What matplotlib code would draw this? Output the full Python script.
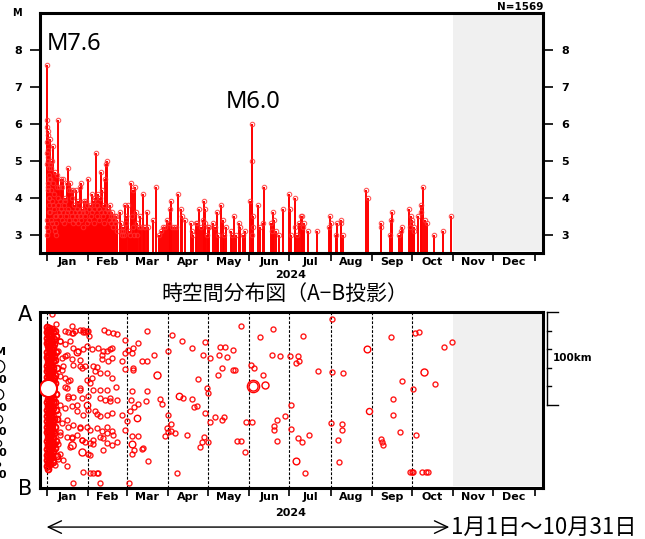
import matplotlib.pyplot as plt
import matplotlib.transforms as mtransforms
from matplotlib.lines import Line2D

plt.rcParams['font.family'] = ['DejaVu Sans']
JP = ['Noto Sans CJK JP', 'DejaVu Sans']

# ---- data -------------------------------------------------------------
month_names = ['Jan', 'Feb', 'Mar', 'Apr', 'May', 'Jun',
               'Jul', 'Aug', 'Sep', 'Oct', 'Nov', 'Dec']
month_start = [0, 31, 60, 91, 121, 152, 182, 213, 244, 274, 305, 335, 366]
year_label = '2024'
total_count = 'N=1569'
title_text = '時空間分布図（A−B投影）'
period_text = '1月1日～10月31日'
no_data_from = 305   # 11/1 onward not yet observed

# (day of year, magnitude) for M>=3 events
quakes_jan = [
    (0.1, 4.9), (0.15, 3.4), (0.2, 5.2), (0.3, 5.5), (0.35, 3.2), (0.4, 6.1),
    (0.5, 7.6), (0.55, 3.0), (0.6, 5.9), (0.7, 5.8), (0.75, 3.1), (0.8, 5.7),
    (0.9, 5.3), (0.95, 4.4), (1.0, 5.1), (1.1, 4.3), (1.2, 5.0), (1.3, 4.2),
    (1.4, 4.8), (1.5, 4.0), (1.6, 4.6), (1.7, 3.8), (1.8, 4.5), (1.9, 3.6),
    (2.0, 4.0), (2.2, 4.5), (2.5, 5.6), (2.6, 3.6), (2.8, 4.9), (3.0, 4.2),
    (3.2, 4.8), (3.5, 5.0), (3.6, 3.4), (3.8, 3.9), (4.0, 3.3), (4.2, 5.0),
    (4.5, 4.4), (4.8, 3.8), (5.0, 5.4), (5.2, 3.2), (5.5, 4.1), (5.8, 3.7),
    (6.0, 3.5), (6.2, 3.1), (6.5, 4.7), (6.8, 3.0), (7.0, 3.5), (7.3, 3.3),
    (7.6, 4.6), (7.9, 4.3), (8.2, 4.0), (8.5, 3.8), (8.7, 6.1), (9.0, 3.6),
    (9.5, 4.3), (9.8, 3.9), (10.2, 3.5), (10.6, 3.7), (11.0, 4.5), (11.3, 3.4),
    (11.7, 4.3), (12.0, 4.5), (12.4, 3.6), (12.8, 3.8), (13.2, 3.3), (13.6, 3.9),
    (14.0, 4.0), (14.4, 3.5), (15.0, 4.4), (15.3, 3.6), (15.7, 4.8), (16.1, 3.7),
    (16.5, 3.4), (17.0, 4.2), (17.5, 4.4), (17.9, 3.6), (18.3, 4.2), (18.7, 3.5),
    (19.2, 4.0), (19.6, 4.2), (20.0, 3.3), (20.5, 3.8), (21.0, 3.6), (21.4, 3.4),
    (22.0, 4.2), (22.5, 3.7), (23.0, 3.5), (23.4, 3.9), (23.8, 3.3), (24.3, 3.6),
    (25.0, 4.3), (25.3, 3.5), (25.7, 4.4), (26.1, 3.4), (26.6, 3.7), (27.0, 3.2),
    (27.5, 3.6), (28.0, 3.9), (28.5, 3.5), (29.3, 3.9), (29.8, 3.6), (30.2, 3.3),
    (30.6, 3.8),
]
quakes_feb = [
    (31.0, 4.5), (31.5, 3.7), (32.0, 3.4), (32.5, 3.8), (33.0, 3.5), (33.7, 4.1),
    (34.2, 3.6), (34.8, 3.9), (35.3, 3.3), (35.8, 3.7), (36.3, 4.0), (37.0, 5.2),
    (37.5, 3.5), (38.0, 3.8), (38.7, 4.1), (39.2, 3.4), (39.6, 3.7), (40.0, 4.0),
    (40.5, 3.6), (41.0, 4.7), (41.7, 4.2), (42.2, 3.5), (42.7, 3.8), (43.2, 3.3),
    (43.6, 3.6), (44.0, 4.5), (44.5, 4.9), (45.0, 3.7), (45.5, 5.0), (46.0, 3.7),
    (46.5, 3.4), (47.0, 3.6), (47.5, 3.8), (48.0, 3.5), (48.5, 3.3), (49.0, 3.6),
    (49.5, 3.5), (50.0, 3.2), (50.5, 3.4), (51.0, 3.5), (51.5, 3.3), (52.0, 3.5),
    (52.5, 3.4), (53.0, 3.1), (55.0, 3.6), (55.5, 3.1), (56.0, 3.3), (56.5, 3.0),
    (57.0, 3.2), (57.6, 3.1), (58.0, 3.0), (58.7, 3.8), (59.2, 3.3), (59.8, 3.5),
]
quakes_after = [
    (60.7, 3.8), (61.5, 3.1), (62.2, 3.0), (63.2, 4.4), (63.8, 3.5), (64.5, 4.2),
    (65.0, 3.2), (65.6, 3.0), (66.5, 4.3), (67.0, 3.6), (67.5, 3.3), (68.0, 3.0),
    (69.0, 3.2), (70.0, 3.5), (71.0, 3.2), (72.0, 4.1), (73.0, 3.2), (74.0, 3.2),
    (75.0, 3.6), (76.0, 3.2), (80.0, 3.4), (82.0, 4.3), (84.0, 3.0), (86.0, 3.1),
    (87.5, 3.2), (89.0, 3.2), (90.5, 3.4), (91.5, 3.3), (92.5, 3.7), (93.0, 3.9),
    (94.0, 3.2), (95.5, 3.2), (97.0, 3.2), (98.7, 4.1), (100.5, 3.7), (101.7, 3.5),
    (104.0, 3.4), (108.0, 3.3), (108.7, 3.1), (110.0, 3.0), (112.0, 3.3), (113.0, 3.3),
    (114.0, 3.7), (115.7, 3.2), (117.0, 3.4), (118.3, 3.9), (118.6, 3.7), (119.0, 3.3),
    (120.0, 3.0), (121.0, 3.2), (122.0, 3.2), (125.0, 3.3), (126.5, 3.2), (127.7, 3.6),
    (128.7, 3.0), (130.5, 3.8), (132.0, 3.4), (133.0, 3.0), (134.5, 3.2), (138.0, 3.1),
    (139.0, 3.0), (140.5, 3.5), (142.0, 3.0), (144.0, 3.3), (145.0, 3.2), (147.5, 3.0),
    (149.0, 3.1), (152.5, 3.9), (154.0, 3.0), (154.2, 6.0), (154.3, 5.0), (154.5, 3.5),
    (154.8, 3.2), (158.7, 3.8), (160.0, 3.2), (162.0, 3.3), (163.0, 4.3), (168.0, 3.3),
    (169.0, 3.1), (170.0, 3.6), (170.5, 3.4), (172.0, 3.1), (174.5, 3.0), (177.5, 3.7),
    (182.0, 4.1), (182.5, 3.7), (183.0, 3.0), (186.0, 4.0), (186.5, 3.2), (188.0, 3.0),
    (189.0, 3.3), (190.5, 3.5), (191.5, 3.5), (192.0, 3.2), (193.0, 3.3), (196.0, 3.1),
    (202.5, 3.1), (211.8, 3.2), (212.5, 3.5), (213.0, 3.3), (217.0, 3.0), (218.0, 3.3),
    (220.5, 3.3), (221.0, 3.4), (222.5, 3.0), (239.5, 4.2), (241.0, 4.0), (250.5, 3.2),
    (250.8, 3.3), (257.5, 3.0), (258.5, 3.4), (258.9, 3.6), (264.0, 3.0), (265.5, 3.1),
    (266.2, 3.2), (271.5, 3.7), (272.3, 3.2), (273.0, 3.5), (273.7, 3.3), (274.3, 3.4),
    (275.2, 3.2), (275.6, 3.1), (278.7, 3.5), (280.5, 3.8), (281.0, 3.6), (282.5, 4.3),
    (284.0, 3.4), (285.5, 3.3), (290.7, 3.0), (297.0, 3.1), (303.0, 3.5),
]

# (day of year, distance from A in km) for the space-time panel
band_points = [
    (0.4, 16), (0.9, 19), (0.3, 22), (1.1, 25), (0.6, 28), (1.3, 31), (0.2, 34),
    (0.8, 37), (1.4, 40), (0.5, 43), (1.0, 46), (0.3, 49), (1.2, 52), (0.7, 55),
    (0.4, 58), (1.1, 61), (0.6, 64), (1.4, 67), (0.2, 70), (0.9, 73), (0.5, 76),
    (1.2, 94), (0.3, 97), (0.8, 100), (1.3, 103), (0.4, 106), (1.0, 109), (0.6, 112),
    (1.4, 115), (0.2, 118), (0.9, 121), (0.5, 124), (1.1, 127), (0.3, 130), (0.8, 133),
    (1.3, 136), (0.4, 139), (1.0, 142), (0.7, 145), (0.2, 148), (1.2, 151), (0.6, 154),
    (0.9, 157), (0.3, 160), (1.1, 163), (0.5, 166), (0.8, 169),
    (2.1, 17), (2.8, 20), (1.8, 24), (2.5, 27), (3.1, 30), (2.0, 33), (2.7, 36),
    (1.7, 39), (2.4, 42), (3.0, 45), (1.9, 48), (2.6, 51), (2.2, 54), (2.9, 57),
    (1.8, 60), (2.5, 63), (3.1, 66), (2.0, 69), (2.7, 72), (2.3, 75), (2.9, 79),
    (2.6, 86), (1.9, 90), (2.4, 93), (3.0, 96), (2.1, 99), (2.8, 102), (1.8, 105),
    (2.5, 108), (3.2, 111), (2.0, 114), (2.7, 117), (2.3, 120), (2.9, 123), (1.9, 126),
    (2.6, 129), (3.1, 132), (2.2, 135), (2.8, 138), (1.8, 141), (2.5, 144), (3.0, 147),
    (2.1, 150), (2.7, 153), (2.4, 156), (1.9, 160), (2.6, 164),
    (3.8, 18), (4.6, 22), (3.5, 26), (5.2, 29), (4.1, 32), (3.6, 35), (4.9, 38),
    (4.3, 41), (3.7, 44), (5.4, 47), (4.0, 50), (4.7, 53), (3.5, 57), (5.0, 60),
    (4.2, 64), (3.9, 68), (5.3, 71), (4.5, 74), (3.6, 78), (4.8, 82), (4.1, 86),
    (3.7, 90), (5.1, 93), (4.4, 97), (3.9, 101), (4.9, 104), (4.2, 108), (3.6, 112),
    (5.3, 115), (4.6, 118), (3.8, 122), (4.2, 126), (5.0, 129), (3.5, 133), (4.7, 136),
    (4.0, 140), (5.4, 143), (3.7, 146), (4.5, 150), (4.1, 154), (3.6, 158), (5.0, 162),
    (6.2, 20), (7.1, 26), (5.8, 35), (6.9, 43), (6.4, 52), (7.5, 60), (5.9, 68),
    (6.6, 77), (7.3, 88), (6.0, 97), (6.8, 106), (7.6, 116), (6.3, 124), (5.7, 131),
    (7.0, 139), (6.5, 147), (7.8, 155),
]
scatter_janfeb = [
    (3.7, 2.4), (7.0, 13), (18.7, 15), (13.7, 20.4), (16.2, 21.2), (20, 22.3),
    (21.2, 20.4), (25, 19.8), (27, 21.2), (28.7, 21.2), (31.2, 20.4), (32, 26),
    (43.2, 19.8), (46.2, 21.2), (49.5, 22.3), (52.5, 24), (58.7, 30.6), (10, 31.3),
    (13.7, 35), (17.5, 31.3), (20, 38.6), (23.7, 42), (27.5, 40.4), (30, 36.7),
    (33.7, 40.4), (38.7, 38.6), (41.2, 46), (45, 42), (47.5, 40.4), (48.7, 38.6),
    (56.2, 53), (58.7, 62), (41.2, 51), (46.2, 53), (48.7, 49.5), (15, 46),
    (11.2, 49.5), (18.7, 51), (12.5, 58.5), (20, 56.7), (25, 58.5), (26.2, 60.3),
    (28.7, 58.5), (35, 58.5), (36.2, 64), (40, 65.8), (10, 69.3), (13.7, 71.2),
    (16.2, 74.8), (30, 73), (33.7, 71.2), (32.5, 76.6), (48.7, 71.2), (52, 81.3),
    (15, 82), (25, 82), (35, 84), (45, 84), (16.2, 91), (20, 92.2), (26.2, 93),
    (31.2, 91), (40, 93), (43.7, 94.8), (47.5, 96.5), (52.5, 94.8), (10, 100),
    (13.7, 103.8), (18.7, 102), (22.5, 107.4), (27.5, 111), (31.2, 105.6),
    (36.2, 107.4), (40, 112.8), (45, 111), (48.7, 109.2), (56.2, 111), (11.2, 120.1),
    (16.2, 123.7), (20, 122), (25, 125.3), (30, 123.7), (32.5, 127.4), (37.5, 125.3),
    (41.2, 129), (45, 131), (48.7, 129), (10, 132.8), (15, 134.6), (18.7, 136.4),
    (22.5, 132.8), (26.2, 138), (28.7, 140), (32.5, 141.8), (35, 138), (42.5, 136.4),
    (45, 141.8), (48.7, 143.7), (52.5, 140), (32.5, 154.6), (5, 156.3), (8.7, 158.2),
    (12.5, 160), (6.2, 165.4), (1.2, 167), (27, 172.6), (32.5, 173.7), (35, 173.7),
    (37.5, 173.7), (38.7, 173.7), (20, 184.2), (40, 184.2),
    (10, 31.7), (18.7, 22.6), (27.5, 19), (30.5, 21), (8.7, 42.6), (13.7, 48),
    (25, 51.6), (11.2, 62.5), (17.5, 73.4), (13.7, 80.6), (25, 84), (16.2, 93.3),
    (22.5, 100.5), (8.7, 109.6), (15, 116.8), (25, 124), (10, 129.6), (18.7, 135),
    (26.2, 138.6), (8.7, 142), (17.5, 146), (10, 153), (5, 160), (15, 165.8),
    (42.5, 42.6), (37.5, 58.9), (45, 66), (40, 84), (47.5, 93.3), (37.5, 109.6),
    (45, 124), (40, 135), (50, 133), (35, 142), (42.5, 149.5), (31.2, 153),
]
scatter_after = [
    (75, 20.5), (68.8, 33), (65, 38.6), (61.2, 41.5), (64.2, 44), (58.8, 44),
    (71.2, 52.4), (75.5, 53), (80.5, 46), (65, 60), (65, 63), (64.2, 85), (75, 85),
    (63, 95), (68.7, 99), (74.3, 96.5), (65.5, 102.7), (62.5, 107), (85, 93.7),
    (86.2, 99.5), (60, 117.6), (58.7, 127), (64.2, 133.5), (68.2, 133.5),
    (65.5, 148.7), (72.5, 146.5), (71.2, 148), (63.7, 153.5), (76, 160.7), (62, 185),
    (93.7, 24.8), (91.2, 42), (101.2, 31.3), (108.7, 39.3), (118.7, 32.8),
    (117.5, 46.5), (122.5, 49.5), (113.2, 72), (120.5, 82), (121.2, 87.8),
    (102, 93), (108.7, 93.7), (112.5, 101.6), (110.5, 102.7), (90.7, 111.7),
    (118.7, 109), (122.5, 119), (93.2, 121), (90.5, 125), (91, 130), (93.5, 128.5),
    (96, 131), (88.7, 134), (105, 132.5), (118, 135), (116.3, 140), (115, 146),
    (120.7, 140.8), (97.5, 173.7),
    (130, 37.8), (133.7, 37.8), (140, 41.5), (129.5, 45.9), (135, 48.7),
    (131.2, 60.3), (139.5, 63), (141.5, 63), (128.7, 67.6), (126.2, 113.6),
    (133, 113.6), (131.7, 116.5), (143, 139), (145.5, 139), (148.7, 151),
    (149.7, 119), (153.7, 119), (145.7, 15), (169.5, 18.7), (160, 27),
    (153, 57.4), (155.2, 60.3), (162.5, 68.3), (169, 46.5), (175.2, 47),
    (182.5, 47), (188.3, 47), (186.8, 55), (189.3, 52.4), (192, 26.3),
    (203.3, 64), (213.8, 7.8), (213.8, 64.7), (183.3, 100), (178.5, 112),
    (173, 116.5), (170.5, 123), (170.5, 127.4), (183, 126.3), (197, 132.4),
    (188.8, 136), (191.3, 140), (172.5, 139), (194, 173.7), (213, 120),
    (222.5, 66), (221.8, 120.5), (221.8, 127.7), (218.3, 138.6), (219.5, 161.4),
    (258.3, 27.4), (276.3, 23), (279.5, 21.2), (298, 38.2), (303.8, 32.4),
    (266.8, 74.8), (291.5, 77.7), (274.5, 82.8), (259.5, 94), (259.5, 111),
    (265, 130), (276.8, 133), (250.8, 137.5), (251.2, 140.4), (252, 143.7),
    (272.5, 172.6), (273.7, 172.6), (275, 172.4), (281.7, 172.4), (284.5, 172.6),
    (286.2, 172.6),
]
# (day, km, magnitude) for the larger symbols
big_events = [
    (18.7, 143.7, 4.4), (26.2, 150.9, 4.3), (22.5, 43, 4.2), (30, 100, 4.1),
    (67.5, 114.7, 4.1), (64.2, 142, 4.2), (82.5, 68, 4.3), (99.5, 91, 4.1),
    (163.7, 78.5, 4.3), (187.3, 161, 4.2), (240, 40, 4.2), (241.8, 106.7, 4.0),
    (283.3, 65, 4.3), (154.5, 80, 5.0), (154.8, 80, 6.0),
]
main_shock = (1.2, 82, 7.6)

legend_labels = ['7.0', '6.0', '5.0', '4.0', '3.0']

# ---- figure -------------------------------------------------------------
W, H = 645, 539
fig = plt.figure(figsize=(W / 100, H / 100), dpi=100)

def px_box(left, top, right, bottom):
    return [left / W, 1 - bottom / H, (right - left) / W, (bottom - top) / H]

XMIN, XMAX = -5.0, 372.3
mid_months = [(a + b) / 2 for a, b in zip(month_start[:-1], month_start[1:])]
tick_font = dict(fontsize=8, fontweight='bold')


def month_axis(ax, ylab_y):
    ax.set_xlim(XMIN, XMAX)
    ax.set_xticks(month_start)
    ax.set_xticklabels([])
    ax.set_xticks(mid_months, minor=True)
    ax.set_xticklabels(month_names, minor=True, **tick_font)
    ax.tick_params(axis='x', which='major', direction='out', length=6, width=1.2)
    ax.tick_params(axis='x', which='minor', length=0, pad=3)
    ax.text(183, ylab_y, year_label, transform=mtransforms.blended_transform_factory(
        ax.transData, ax.transAxes), ha='center', va='center', **tick_font)
    for s in ax.spines.values():
        s.set_linewidth(2.2)


# top: magnitude - time
ax1 = fig.add_axes(px_box(40, 13, 543, 253))
events = quakes_jan + quakes_feb + quakes_after
t_day = [e[0] for e in events]
t_mag = [e[1] for e in events]
ax1.axvspan(no_data_from, XMAX - 1, ymin=0.008, ymax=0.99, color='#f0f0f0', lw=0)
ax1.vlines(t_day, 2.5, t_mag, color='red', lw=1.4)
ax1.plot(t_day, t_mag, 'o', mfc='none', mec='#ff3030', ms=3.2, mew=0.8, alpha=0.8)
ax1.set_ylim(2.5, 9.0)
ax1.set_yticks([3, 4, 5, 6, 7, 8])
ax1.set_yticklabels(['3', '4', '5', '6', '7', '8'], **tick_font)
ax1.tick_params(axis='y', left=True, right=True, labelleft=True, labelright=True,
                direction='out', length=7, width=1.2, pad=6)
month_axis(ax1, -0.092)
ax1.text(20.5, 8.16, 'M7.6', fontsize=17, family='Noto Sans', ha='center', va='center')
ax1.text(154.8, 6.58, 'M6.0', fontsize=17, family='Noto Sans', ha='center', va='center')
fig.text(17 / W, 1 - 13 / H, 'M', ha='center', va='center', fontsize=7, fontweight='bold')
fig.text(543 / W, 1 - 6.5 / H, total_count, ha='right', va='center',
         fontsize=7.5, fontweight='bold')

# bottom: space - time (A-B projection)
ax2 = fig.add_axes(px_box(40, 312, 543, 488))
ax2.axvspan(no_data_from, XMAX - 1, ymin=0.01, ymax=0.99, color='#f0f0f0', lw=0)
for d in month_start[:10]:
    ax2.axvline(d, color='black', lw=0.8, ls=(0, (2.5, 1.5)))
ax2.plot([p[0] for p in band_points], [p[1] for p in band_points], 'o', mfc='none',
         mec='red', ms=4.2, mew=1.4)
pts = scatter_janfeb + scatter_after
ax2.plot([p[0] for p in pts], [p[1] for p in pts], 'o', mfc='none', mec='red',
         ms=3.6, mew=1.0, alpha=0.9)
for d, km, m in big_events:
    ax2.plot(d, km, 'o', mfc='none', mec='red', ms=2.2 * (m - 2), mew=1.0)
ax2.plot(main_shock[0], main_shock[1], 'o', mfc='white', mec='red',
         ms=2.2 * (main_shock[2] - 2), mew=1.5, zorder=5)
ax2.set_ylim(190, 0)
ax2.set_yticks([])
month_axis(ax2, -0.142)

# 100 km scale bar beside the panel
tr = mtransforms.blended_transform_factory(ax2.transAxes, ax2.transData)
x0 = 1.008
ax2.add_line(Line2D([x0, x0], [0, 100], transform=tr, color='black', lw=1, clip_on=False))
for km in [0, 20, 40, 60, 80, 100]:
    x1 = 1.030 if km in (0, 100) else 1.016
    ax2.add_line(Line2D([x0, x1], [km, km], transform=tr, color='black', lw=1,
                        clip_on=False))
ax2.text(1.020, 50, '100km', transform=tr, ha='left', va='center',
         fontsize=7.5, fontweight='bold')

fig.text(25 / W, 1 - 315 / H, 'A', ha='center', va='center', fontsize=15)
fig.text(25 / W, 1 - 489 / H, 'B', ha='center', va='center', fontsize=15)
fig.text(285 / W, 1 - 294 / H, title_text, ha='center', va='center',
         fontsize=15, family=JP)

# period arrow
tb = mtransforms.blended_transform_factory(ax2.transData, ax2.transAxes)
ax2.annotate('', xy=(0, -0.222), xytext=(302, -0.222), xycoords=tb, textcoords=tb,
             arrowprops=dict(arrowstyle='<->,head_length=0.95,head_width=0.45',
                             lw=1, color='black', shrinkA=0, shrinkB=0),
             annotation_clip=False)
ax2.text(303, -0.222, period_text, transform=tb, ha='left', va='center',
         fontsize=16, family=JP)

# magnitude legend (cut off at the left edge, as in the source figure)
fig.text(6 / W, 1 - 352 / H, 'M', ha='right', va='center', fontsize=8, fontweight='bold')
for i, lab in enumerate(legend_labels):
    ly = [380, 408, 432, 453, 475][i]
    cy = [366, 394, 419, 443, 464][i]
    fig.text(7 / W, 1 - ly / H, lab, ha='right', va='center', fontsize=8,
             fontweight='bold')
    fig.add_artist(Line2D([-2 / W], [1 - cy / H], marker='o', mfc='none', mec='black',
                          ms=[9, 7.5, 6, 4.5, 3][i], mew=0.9, transform=fig.transFigure))

fig.savefig('out.png', dpi=100)
